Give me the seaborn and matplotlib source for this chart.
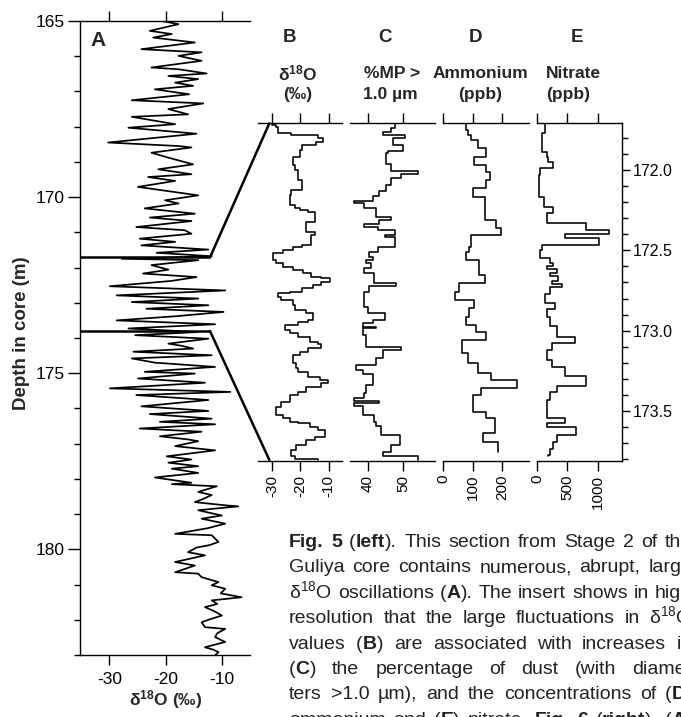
import numpy as np
import pandas as pd
import matplotlib
matplotlib.use("Agg")
import matplotlib.pyplot as plt
import seaborn as sns
from matplotlib.patches import ConnectionPatch
from matplotlib.ticker import MultipleLocator, FormatStrFormatter
from matplotlib.transforms import IdentityTransform

sns.set_style("ticks")
plt.rcParams['font.family'] = ['Liberation Sans', 'DejaVu Sans']
plt.rcParams['mathtext.fontset'] = 'custom'
plt.rcParams['mathtext.rm'] = 'Liberation Sans'
plt.rcParams['mathtext.bf'] = 'Liberation Sans:bold'
plt.rcParams['mathtext.it'] = 'Liberation Sans:italic'
plt.rcParams['mathtext.default'] = 'regular'
plt.rcParams['axes.unicode_minus'] = False
plt.rcParams['axes.edgecolor'] = 'black'
plt.rcParams['xtick.color'] = 'black'
plt.rcParams['ytick.color'] = 'black'

# ---------------- data ----------------
# Panel A: long d18O record (depth in m, d18O in permil)
depth_a = [165.00, 165.09, 165.28, 165.37, 165.47, 165.61, 165.80, 165.89, 165.99, 166.13,
           166.32, 166.37, 166.49, 166.56, 166.65, 166.75, 166.84, 166.94, 167.08, 167.25,
           167.34, 167.50, 167.65, 167.72, 167.93, 168.03, 168.20, 168.45, 168.55, 168.59,
           168.74, 168.88, 169.07, 169.21, 169.35, 169.43, 169.54, 169.71, 169.95, 170.09,
           170.18, 170.32, 170.47, 170.58, 170.68, 170.85, 170.94, 171.04, 171.18, 171.27,
           171.37, 171.49, 171.58, 171.68, 171.75, 171.79, 171.93, 172.06, 172.17, 172.27,
           172.38, 172.53, 172.65, 172.79, 172.88, 172.98, 173.07, 173.17, 173.26, 173.38,
           173.50, 173.61, 173.73, 173.83, 173.92, 174.02, 174.16, 174.22, 174.30, 174.39,
           174.49, 174.58, 174.70, 174.82, 174.96, 175.01, 175.15, 175.27, 175.43, 175.53,
           175.62, 175.76, 175.94, 176.07, 176.16, 176.29, 176.38, 176.45, 176.57, 176.66,
           176.79, 176.88, 176.93, 177.07, 177.19, 177.36, 177.45, 177.54, 177.64, 177.71,
           177.83, 177.96, 178.11, 178.15, 178.21, 178.37, 178.46, 178.58, 178.66, 178.75,
           178.78, 178.89, 179.04, 179.13, 179.27, 179.40, 179.56, 179.60, 179.79, 179.88,
           179.95, 180.08, 180.17, 180.36, 180.46, 180.65, 180.69, 180.79, 180.93, 181.02,
           181.12, 181.25, 181.36, 181.45, 181.55, 181.64, 181.76, 181.88, 181.98, 182.07,
           182.21, 182.26, 182.38, 182.49, 182.63, 182.78, 182.85, 182.92, 183.01]
d18o_a = [-20.7, -17.7, -22.8, -18.9, -22.2, -14.8, -24.3, -13.6, -17.7, -13.6,
          -22.5, -17.7, -12.7, -19.5, -14.2, -18.3, -15.1, -21.9, -15.8, -26.0,
          -13.3, -19.5, -16.0, -26.0, -18.3, -26.6, -14.5, -30.2, -17.7, -15.4,
          -22.5, -19.5, -15.1, -21.3, -15.4, -23.1, -18.3, -24.9, -14.2, -20.1,
          -17.7, -23.7, -14.8, -22.8, -15.4, -25.2, -16.6, -15.4, -24.6, -18.3,
          -24.3, -12.4, -21.6, -11.8, -27.8, -14.2, -22.5, -19.5, -24.0, -14.5,
          -19.0, -29.9, -9.4, -28.7, -14.2, -26.0, -12.4, -23.4, -9.7, -18.0,
          -28.7, -11.2, -26.6, -14.2, -25.4, -12.4, -19.5, -17.2, -15.1, -25.7,
          -11.8, -26.0, -21.9, -11.2, -23.7, -14.8, -24.9, -13.0, -29.9, -8.5,
          -25.2, -12.4, -24.3, -12.4, -22.8, -11.8, -21.0, -11.2, -24.6, -13.6,
          -21.0, -16.0, -14.2, -18.3, -11.2, -19.8, -15.4, -19.5, -14.2, -18.9,
          -14.2, -21.9, -15.4, -18.9, -10.9, -14.2, -11.8, -13.5, -14.8, -9.4,
          -7.1, -14.2, -10.0, -13.6, -9.4, -12.5, -18.3, -11.8, -10.6, -12.2,
          -14.5, -16.0, -13.0, -18.3, -14.8, -18.3, -14.2, -13.6, -10.6, -11.8,
          -9.4, -10.2, -6.5, -11.8, -10.8, -13.0, -11.3, -10.0, -12.0, -13.6,
          -13.0, -9.4, -10.8, -11.2, -9.4, -13.0, -11.5, -10.6, -11.2]

# Panel B: high-resolution d18O (step profile)
b_depth = [171.71, 171.72, 171.73, 171.772, 171.782, 171.803, 171.824, 171.845, 171.876, 171.917,
           171.969, 172.0, 172.062, 172.125, 172.156, 172.218, 172.239, 172.249, 172.259, 172.322,
           172.384, 172.405, 172.467, 172.477, 172.498, 172.519, 172.56, 172.581, 172.602, 172.622,
           172.643, 172.664, 172.674, 172.695, 172.716, 172.736, 172.757, 172.767, 172.788, 172.809,
           172.84, 172.871, 172.892, 172.933, 172.944, 172.965, 172.996, 173.016, 173.037, 173.068,
           173.083, 173.11, 173.13, 173.151, 173.203, 173.234, 173.255, 173.286, 173.307, 173.327,
           173.348, 173.379, 173.4, 173.442, 173.473, 173.524, 173.545, 173.566, 173.576, 173.597,
           173.618, 173.659, 173.68, 173.711, 173.742, 173.783, 173.8, 173.804]
b_d18o = [-30.2, -28.5, -27.9, -23.2, -13.8, -12.0, -14.4, -19.6, -20.2, -22.6,
          -22.0, -20.8, -19.6, -23.2, -23.8, -22.0, -20.2, -17.3, -14.9, -17.9,
          -14.9, -16.1, -19.6, -22.6, -26.1, -29.6, -28.5, -26.1, -22.6, -19.1,
          -16.1, -12.6, -9.6, -12.6, -15.5, -19.6, -23.8, -27.9, -26.7, -22.6,
          -22.0, -17.9, -15.5, -17.3, -20.8, -25.5, -23.8, -20.8, -16.7, -13.8,
          -12.6, -17.3, -20.2, -22.6, -21.4, -20.8, -17.3, -13.2, -10.2, -12.6,
          -17.9, -20.8, -23.8, -26.7, -28.5, -26.1, -23.8, -20.8, -16.7, -13.8,
          -11.4, -14.9, -17.9, -21.4, -23.2, -22.0, -13.8, -13.8]

# Panel C: % microparticles > 1.0 um
c_depth = [171.71, 171.741, 171.762, 171.782, 171.803, 171.845, 171.88, 171.896, 171.963, 172.004,
           172.025, 172.052, 172.093, 172.129, 172.162, 172.191, 172.207, 172.239, 172.29, 172.311,
           172.336, 172.353, 172.373, 172.405, 172.42, 172.477, 172.508, 172.539, 172.56, 172.581,
           172.612, 172.639, 172.705, 172.722, 172.757, 172.85, 172.892, 172.933, 172.954, 172.975,
           172.985, 173.027, 173.099, 173.12, 173.172, 173.213, 173.245, 173.269, 173.338, 173.39,
           173.421, 173.437, 173.452, 173.469, 173.524, 173.566, 173.593, 173.649, 173.711, 173.753,
           173.783, 173.804]
c_mp = [47.6, 46.7, 44.3, 50.5, 47.1, 50.0, 45.7, 45.2, 46.7, 54.3,
        49.5, 46.7, 45.2, 43.3, 41.4, 36.2, 39.0, 42.4, 46.7, 43.3,
        39.0, 42.9, 47.6, 44.8, 47.6, 42.9, 40.5, 41.5, 39.5, 40.8,
        39.0, 41.9, 48.1, 40.5, 39.0, 40.0, 44.8, 41.4, 38.6, 42.4,
        38.6, 39.5, 49.5, 44.3, 42.4, 36.7, 38.6, 41.4, 39.5, 39.0,
        36.2, 43.3, 36.2, 38.6, 41.9, 42.4, 43.8, 49.0, 46.7, 44.3,
        54.3, 54.3]

# Panel D: ammonium (ppb)
d_depth = [171.71, 171.751, 171.782, 171.813, 171.865, 171.917, 171.969, 172.01, 172.062, 172.114,
           172.166, 172.311, 172.363, 172.405, 172.477, 172.508, 172.56, 172.653, 172.705, 172.757,
           172.809, 172.861, 172.913, 172.965, 173.006, 173.058, 173.141, 173.203, 173.265, 173.307,
           173.359, 173.4, 173.504, 173.545, 173.638, 173.69, 173.753]
d_nh4 = [77, 83, 94, 117, 145, 106, 145, 157, 145, 100,
         143, 180, 197, 94, 89, 77, 123, 143, 55, 41,
         106, 89, 77, 111, 145, 64, 83, 117, 163, 248,
         128, 100, 145, 174, 134, 185, 185]

# Panel E: nitrate (ppb)
e_depth = [171.71, 171.772, 171.886, 171.917, 171.948, 171.99, 172.031, 172.166, 172.228, 172.27,
           172.332, 172.373, 172.398, 172.425, 172.467, 172.498, 172.55, 172.577, 172.597, 172.618,
           172.639, 172.66, 172.689, 172.709, 172.73, 172.772, 172.826, 172.867, 172.917, 172.971,
           173.041, 173.074, 173.12, 173.182, 173.224, 173.282, 173.344, 173.379, 173.431, 173.545,
           173.572, 173.597, 173.649, 173.69, 173.738, 173.773, 173.783]
e_no3 = [135, 81, 162, 189, 270, 54, 27, 108, 270, 162,
         810, 1188, 459, 1026, 81, 54, 216, 270, 162, 324,
         216, 351, 243, 405, 216, 135, 297, 162, 216, 324,
         621, 243, 162, 243, 459, 810, 324, 216, 162, 459,
         162, 648, 324, 270, 216, 189, 189]

a_ticks = [-30, -20, -10]
depth_major_a = [165, 170, 175, 180]
insert_depth_ticks = [172.0, 172.5, 173.0, 173.5]

# ---------------- figure ----------------
W, H = 681, 717
fig = plt.figure(figsize=(W / 100, H / 100), dpi=100, facecolor='white')


def rect(x0, y0, x1, y1):
    return [x0 / W, 1 - y1 / H, (x1 - x0) / W, (y1 - y0) / H]


def ftxt(x, y, s, **kw):
    return fig.text(x / W, 1 - y / H, s, **kw)


# Panel A
axA = fig.add_axes(rect(80, 21, 250, 655))
sns.lineplot(x=d18o_a, y=depth_a, orient='y', sort=False, estimator=None,
             color='black', lw=1.25, ax=axA)
axA.set_xlim(-35.2, -5)
axA.set_ylim(183.0, 165.0)
axA.spines['right'].set_visible(False)
for s in ['left', 'top', 'bottom']:
    axA.spines[s].set_linewidth(1.0)
axA.set_xticks(a_ticks)
axA.set_xticklabels([str(t) for t in a_ticks])
axA.tick_params(axis='x', top=True, bottom=True, labeltop=False, direction='out',
                length=7, width=1, labelsize=12.5, pad=5)
axA.set_yticks(depth_major_a)
axA.set_yticklabels([str(t) for t in depth_major_a])
axA.yaxis.set_minor_locator(MultipleLocator(1))
axA.tick_params(axis='y', which='major', direction='out', length=9, width=1, labelsize=12.5, pad=2)
axA.tick_params(axis='y', which='minor', direction='out', length=4, width=1)
axA.set_xlabel("")
axA.set_ylabel("")

# Insert panels
y_top, y_bot = 123, 461
insert_ylim = (173.811, 171.708)
panels = [
    ("B", b_depth, b_d18o, (-35, -5.3), [-30, -20, -10], 258, 342),
    ("C", c_depth, c_mp, (35, 59), [40, 50], 350, 435),
    ("D", d_depth, d_nh4, (0, 290), [0, 100, 200], 443, 529),
    ("E", e_depth, e_no3, (0, 1400), [0, 500, 1000], 537, 622),
]
axes = {}
for name, dep, val, xl, xt, x0, x1 in panels:
    ax = fig.add_axes(rect(x0, y_top, x1, y_bot))
    sns.lineplot(x=val, y=dep, orient='y', sort=False, estimator=None,
                 color='black', lw=1.15, drawstyle='steps-pre', ax=ax)
    ax.set_xlim(*xl)
    ax.set_ylim(*insert_ylim)
    ax.spines['left'].set_visible(False)
    ax.spines['right'].set_visible(name == "E")
    for s in ['top', 'bottom', 'right']:
        ax.spines[s].set_linewidth(1.0)
    ax.set_xticks(xt)
    ax.set_xticklabels([str(t) for t in xt])
    ax.tick_params(axis='x', top=True, bottom=True, labeltop=False, labelbottom=True,
                   direction='out', length=7, width=1, labelsize=11, labelrotation=90, pad=3)
    if name == "E":
        ax.yaxis.tick_right()
        ax.set_yticks(insert_depth_ticks)
        ax.yaxis.set_major_formatter(FormatStrFormatter('%.1f'))
        ax.yaxis.set_minor_locator(MultipleLocator(0.1))
        ax.tick_params(axis='y', which='major', direction='out', length=6, width=1,
                       labelsize=11.5, pad=2, left=False, right=True)
        ax.tick_params(axis='y', which='minor', direction='out', length=4, width=1,
                       left=False, right=True)
    else:
        ax.set_yticks([])
    ax.set_xlabel("")
    ax.set_ylabel("")
    axes[name] = ax

# Connection lines from A to insert
ins_top, ins_bot = b_depth[0], b_depth[-1]
link_a, link_b = -12.1, -31.0
for d in (ins_top, ins_bot):
    axA.plot([-35.2, link_a], [d, d], color='black', lw=1.8, clip_on=False,
             solid_capstyle='butt')
    con = ConnectionPatch(xyA=(link_a, d), coordsA=axA.transData,
                          xyB=(link_b, d), coordsB=axes["B"].transData,
                          color='black', lw=1.8)
    fig.add_artist(con)

# Panel letters and headings
ftxt(98, 40, "A", fontsize=15, fontweight='bold', ha='center', va='center')
heads = [("B", 290, "δ$^{18}$O", 298, "(‰)", 298),
         ("C", 385, "%MP >", 392, "1.0 µm", 390),
         ("D", 475, "Ammonium", 480, "(ppb)", 480),
         ("E", 577, "Nitrate", 573, "(ppb)", 568)]
for let, lx, h1, h1x, h2, h2x in heads:
    ftxt(lx, 38, let, fontsize=13.5, fontweight='bold', ha='center', va='center')
    ftxt(h1x, 73, h1, fontsize=12.5, fontweight='bold', ha='center', va='center')
    ftxt(h2x, 95, h2, fontsize=12.5, fontweight='bold', ha='center', va='center')

ftxt(22, 333, "Depth in core (m)", fontsize=13.5, fontweight='bold', rotation=90,
     ha='center', va='center')
ftxt(166, 700, "δ$^{18}$O (‰)", fontsize=12.5, fontweight='bold', ha='center', va='center')

# Caption (justified block, clipped by the figure edge as in the original page)
caption = [
    ["**Fig.**", "**5**", "(**left**).", "This", "section", "from", "Stage", "2", "of", "the"],
    ["Guliya", "core", "contains", "numerous,", "abrupt,", "large"],
    ["δ$^{18}$O", "oscillations", "(**A**).", "The", "insert", "shows", "in", "high"],
    ["resolution", "that", "the", "large", "fluctuations", "in", "δ$^{18}$O"],
    ["values", "(**B**)", "are", "associated", "with", "increases", "in"],
    ["(**C**)", "the", "percentage", "of", "dust", "(with", "diame-"],
    ["ters", ">1.0", "µm),", "and", "the", "concentrations", "of", "(**D**)"],
    ["ammonium", "and", "(**E**)", "nitrate.", "**Fig.**", "**6**", "(**right**).", "(**A**)"],
]
cap_x0, cap_w, cap_base0, cap_lead = 289, 403, 547, 25.4
cap_fs = 14
renderer = fig.canvas.get_renderer()


def make_word(word):
    arts = []
    for i, p in enumerate(word.split("**")):
        if p == "":
            continue
        t = fig.text(0, 0, p, fontsize=cap_fs, fontweight='bold' if i % 2 else 'normal',
                     ha='left', va='baseline', transform=IdentityTransform(), color='#222222')
        arts.append(t)
    return arts


tmp = fig.text(0, 0, "x x", fontsize=cap_fs, transform=IdentityTransform())
tmp2 = fig.text(0, 0, "xx", fontsize=cap_fs, transform=IdentityTransform())
space_w = tmp.get_window_extent(renderer).width - tmp2.get_window_extent(renderer).width
tmp.remove()
tmp2.remove()

for li, words in enumerate(caption):
    ybase = H - (cap_base0 + li * cap_lead)
    word_arts = [make_word(w) for w in words]
    widths = []
    for arts in word_arts:
        widths.append(sum(a.get_window_extent(renderer).width for a in arts))
    gap = (cap_w - sum(widths)) / max(len(words) - 1, 1)
    gap = max(gap, space_w)
    x = cap_x0
    for arts, wdt in zip(word_arts, widths):
        xx = x
        for a in arts:
            a.set_position((xx, ybase))
            xx += a.get_window_extent(renderer).width
        x += wdt + gap

fig.savefig("out.png", dpi=100, facecolor='white')
